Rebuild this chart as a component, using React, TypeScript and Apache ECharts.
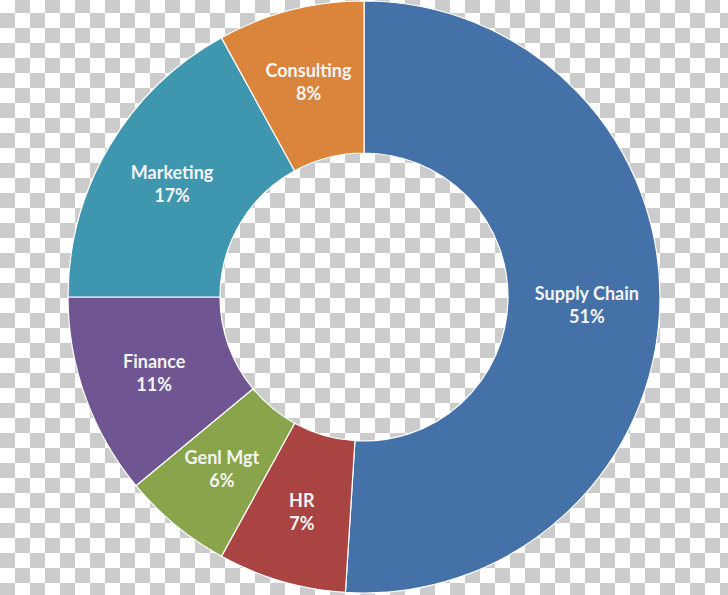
import React, { useEffect, useRef } from "react";
import * as echarts from "echarts";

const categories = ["Supply Chain", "HR", "Genl Mgt", "Finance", "Marketing", "Consulting"];
const values = [51, 7, 6, 11, 17, 8];
const colors = ["#4472A8", "#A94442", "#88A54B", "#6F5592", "#3F97AF", "#DA843C"];

export default function App() {
  const ref = useRef<HTMLDivElement>(null);
  useEffect(() => {
    if (!ref.current) return;
    const chart = echarts.init(ref.current, null, { renderer: "svg" });
    chart.setOption({
      animation: false,
      series: [
        {
          type: "pie",
          center: [364, 297],
          radius: [144, 296],
          startAngle: 90,
          clockwise: true,
          avoidLabelOverlap: false,
          data: categories.map((name, i) => ({
            name,
            value: values[i],
            itemStyle: { color: colors[i] },
          })),
          itemStyle: { borderColor: "#ffffff", borderWidth: 1.2 },
          label: {
            show: true,
            position: "inside",
            formatter: "{b}\n{d}%",
            color: "#f4f4f4",
            fontFamily: "Lato",
            fontWeight: "bold",
            fontSize: 18,
            lineHeight: 23,
          },
          labelLine: { show: false },
          emphasis: { disabled: true },
        },
      ],
    });
    return () => chart.dispose();
  }, []);
  return (
    <div
      ref={ref}
      style={{
        position: "absolute",
        left: 0,
        top: 0,
        width: 728,
        height: 595,
        background: "repeating-conic-gradient(#cccccc 0% 25%, #ffffff 0% 50%) 0px -2px / 30px 30px",
      }}
    />
  );
}
